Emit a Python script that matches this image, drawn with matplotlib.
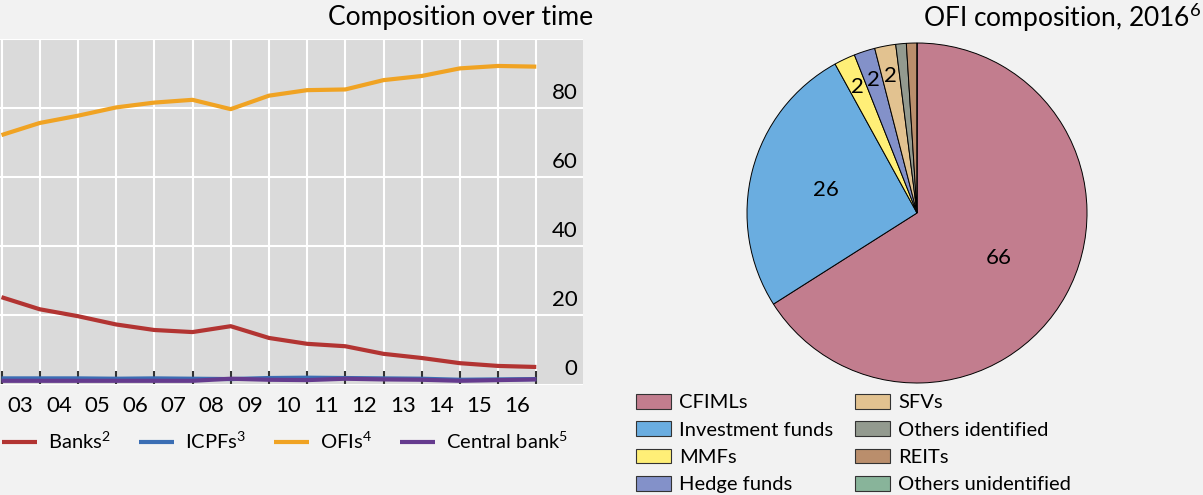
import matplotlib
matplotlib.use("Agg")
import matplotlib.pyplot as plt
import numpy as np
from matplotlib.patches import Patch

# ---------------- data ----------------
years = list(range(2003, 2018))          # year-end points (boundary positions)
year_labels = ["03", "04", "05", "06", "07", "08", "09", "10", "11", "12", "13", "14", "15", "16"]
banks = [25.3, 21.8, 19.8, 17.4, 15.8, 15.2, 16.9, 13.5, 11.8, 11.1, 8.9, 7.7, 6.2, 5.4, 5.1]
icpfs = [1.8, 1.8, 1.8, 1.7, 1.8, 1.7, 1.6, 1.9, 2.0, 1.9, 1.8, 1.7, 1.4, 1.5, 1.6]
ofis = [72.2, 75.7, 77.8, 80.2, 81.6, 82.4, 79.7, 83.6, 85.2, 85.4, 88.1, 89.3, 91.5, 92.2, 92.0]
central_bank = [1.1, 1.1, 1.1, 1.1, 1.1, 1.1, 1.7, 1.4, 1.3, 1.7, 1.5, 1.4, 1.1, 1.3, 1.5]
y_ticks = [0, 20, 40, 60, 80]

pie_labels = ["CFIMLs", "Investment funds", "MMFs", "Hedge funds",
              "SFVs", "Others identified", "REITs", "Others unidentified"]
pie_values = [66, 26, 2, 2, 2, 1, 1, 0]

# ---------------- style ----------------
FONT = ["Lato", "DejaVu Sans"]
plt.rcParams["font.family"] = FONT
plt.rcParams["mathtext.default"] = "regular"
BG = "#F2F2F2"
AX_BG = "#DADADA"
c_banks, c_icpf, c_ofi, c_cb = "#B23432", "#3B6EB4", "#F0A323", "#653B8E"
pie_colors = ["#C27D8E", "#6AADE0", "#FFEF77", "#8391C9",
              "#E2C290", "#939A8F", "#BA8E6C", "#88B49A"]
WT = "normal"

W, H = 1203, 495
fig = plt.figure(figsize=(W / 100, H / 100), dpi=100, facecolor=BG)

# ---------------- left panel ----------------
ax_l, ax_r_px, ax_t, ax_b = 0, 583, 39, 384.6
ax = fig.add_axes([ax_l / W, 1 - ax_b / H, (ax_r_px - ax_l) / W, (ax_b - ax_t) / H])
ax.set_facecolor(AX_BG)
px_per_year = 38.2
x0 = years[0] - 1.5 / px_per_year
ax.set_xlim(x0, x0 + (ax_r_px - ax_l) / px_per_year)
ax.set_ylim(0, 100)
for s in ax.spines.values():
    s.set_visible(False)
ax.set_axisbelow(True)

ax.set_xticks(years)
ax.set_xticks([y + 0.5 for y in years[:-1]], minor=True)
ax.set_xticklabels([])
ax.set_xticklabels(year_labels, minor=True, fontweight=WT)
ax.tick_params(axis="x", which="major", direction="in", length=10, width=1.5, color="#333333")
ax.tick_params(axis="x", which="minor", length=0, pad=8, labelsize=16)
ax.grid(axis="x", which="major", color="white", linewidth=1.5)
ax.set_yticks(y_ticks + [100])
ax.set_yticklabels([])
ax.tick_params(axis="y", length=0)
ax.grid(axis="y", color="white", linewidth=1.5)
for t in y_ticks:
    ax.annotate(str(t), xy=(1, t), xycoords=("axes fraction", "data"),
                xytext=(-4, 4), textcoords="offset points",
                ha="right", va="bottom", fontsize=16, fontweight=WT)

lw = 3.0
ax.plot(years, banks, color=c_banks, lw=lw, label="Banks$^{2}$", solid_capstyle="butt")
ax.plot(years, icpfs, color=c_icpf, lw=lw, label="ICPFs$^{3}$", solid_capstyle="butt")
ax.plot(years, ofis, color=c_ofi, lw=lw, label="OFIs$^{4}$", solid_capstyle="butt")
ax.plot(years, central_bank, color=c_cb, lw=lw, label="Central bank$^{5}$", solid_capstyle="butt")

fig.text(593 / W, 1 - 18 / H, "Composition over time", ha="right", va="center", fontsize=19)

leg = ax.legend(loc="center left", bbox_to_anchor=(2 / 583, -0.165), ncol=4, frameon=False,
                prop=dict(size=14.5, weight=WT), handlelength=1.75, handletextpad=0.55,
                columnspacing=1.38, borderaxespad=0, borderpad=0)

# ---------------- right panel (pie) ----------------
cx, cy, R = 917, 213, 170
axp = fig.add_axes([(cx - R) / W, 1 - (cy + R) / H, 2 * R / W, 2 * R / H])
wedges, _ = axp.pie(pie_values, colors=pie_colors, startangle=90, counterclock=False,
                    wedgeprops=dict(edgecolor="black", linewidth=0.7))
axp.set_xlim(-1, 1)
axp.set_ylim(-1, 1)
axp.set_aspect("equal")
axp.axis("off")
for w, v in zip(wedges, pie_values):
    if v >= 2:
        ang = np.deg2rad((w.theta1 + w.theta2) / 2)
        r = 0.55 if v >= 10 else 0.82
        axp.text(r * np.cos(ang), r * np.sin(ang), str(v), ha="center", va="center",
                 fontsize=16, fontweight=WT)

fig.text(1201 / W, 1 - 18 / H, "OFI composition, 2016$^{6}$", ha="right", va="center", fontsize=19)

handles = [Patch(facecolor=c, edgecolor="#333333", linewidth=0.8) for c in pie_colors]
fig.legend(handles, pie_labels, loc="upper left", bbox_to_anchor=(636 / W, 1 - 394 / H),
           ncol=2, frameon=False, prop=dict(size=14.5, weight=WT), handlelength=1.75,
           handleheight=0.75, handletextpad=0.4, columnspacing=1.05, labelspacing=0.49,
           borderaxespad=0, borderpad=0)

fig.savefig("out.png", dpi=100, facecolor=BG)
